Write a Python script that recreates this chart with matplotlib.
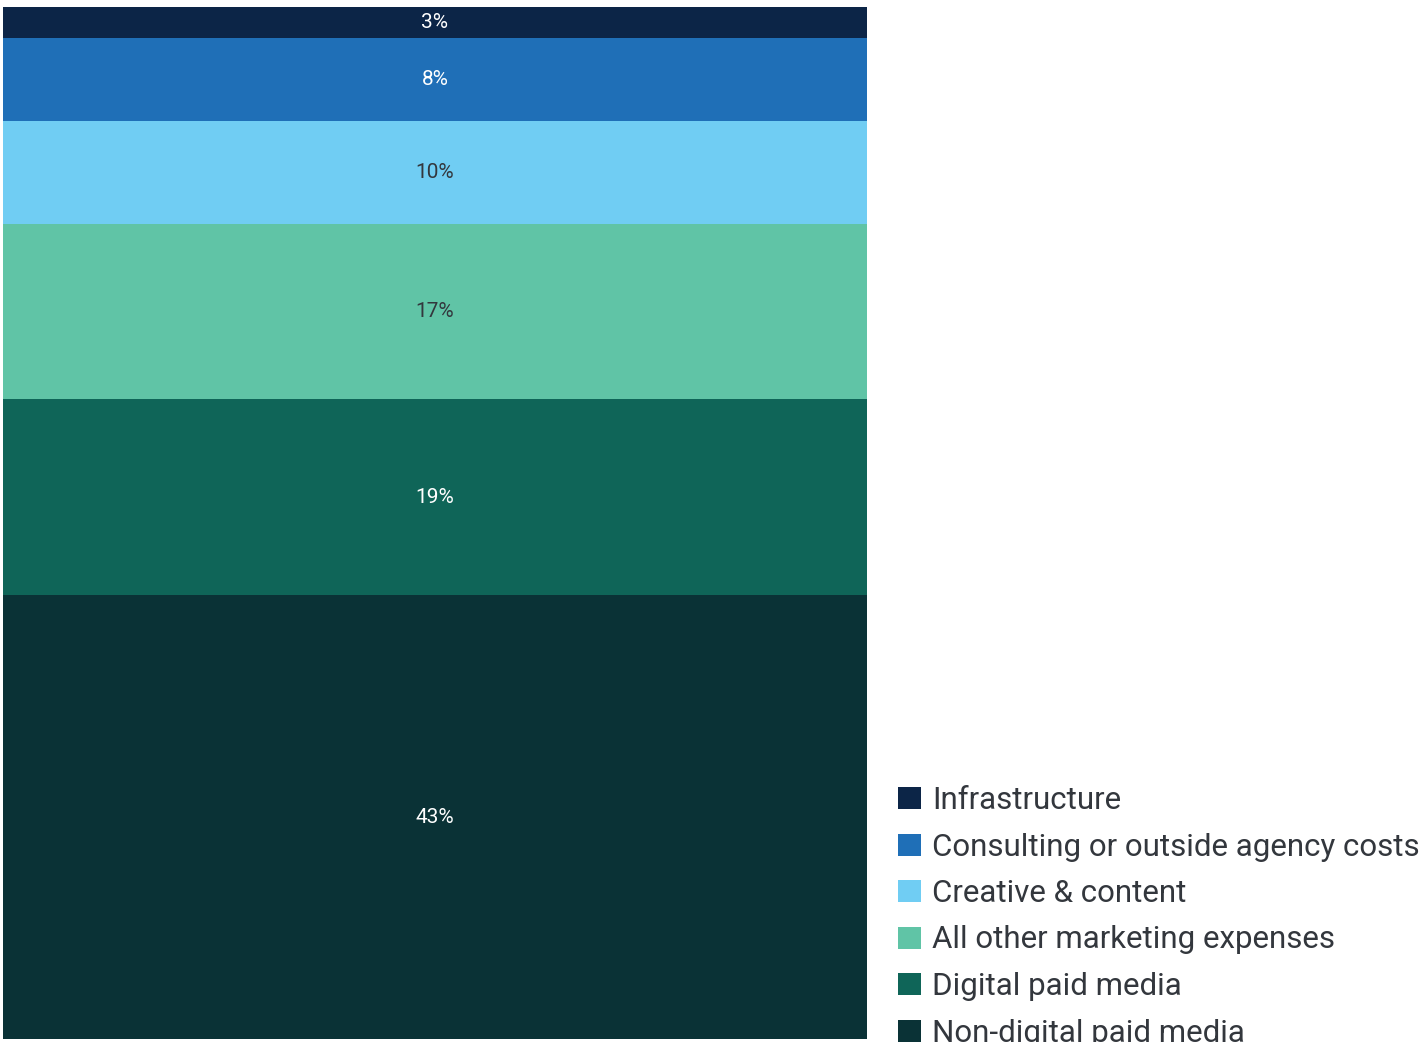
import matplotlib
matplotlib.use('Agg')
import matplotlib.pyplot as plt

# spend share by category, stacked bottom to top
categories = ['Non-digital paid media', 'Digital paid media', 'All other marketing expenses',
              'Creative & content', 'Consulting or outside agency costs', 'Infrastructure']
shares = [43, 19, 17, 10, 8, 3]
colors = ['#0a3236', '#0f6558', '#60c4a6', '#70cdf3', '#1f6fb7', '#0c2547']
label_colors = ['white', 'white', '#33373d', '#33373d', 'white', 'white']

plt.rcParams['font.family'] = ['Roboto', 'DejaVu Sans']

fig = plt.figure(figsize=(14.25, 10.42), dpi=100)
ax = fig.add_axes([3/1425, 3/1042, 864/1425, 1032/1042])

bottom = 0
handles = []
for cat, val, col, lc in zip(categories, shares, colors, label_colors):
    b = ax.bar(0, val, bottom=bottom, width=1, color=col, label=cat, linewidth=0)
    handles.append(b)
    ax.text(0, bottom + val/2, '%d%%' % val, ha='center', va='center',
            color=lc, fontsize=15)
    bottom += val

ax.set_xlim(-0.5, 0.5)
ax.set_ylim(0, 100)
ax.axis('off')

# legend lists top segment first
leg = fig.legend(handles[::-1], categories[::-1], loc='upper left',
                 bbox_to_anchor=(898/1425, 1 - 786/1042), frameon=False,
                 fontsize=22.5, handlelength=0.72, handleheight=0.7,
                 handletextpad=0.37, labelspacing=0.56, borderpad=0, borderaxespad=0)
for t in leg.get_texts():
    t.set_color('#33373d')

fig.savefig('out.png', dpi=100)
